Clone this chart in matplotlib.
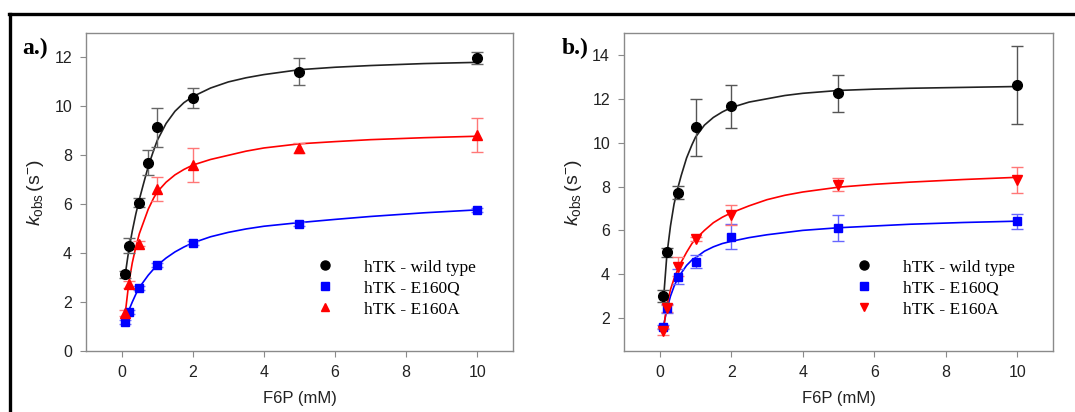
import numpy as np
import matplotlib.pyplot as plt
from matplotlib.lines import Line2D

plt.rcParams['font.family'] = ['Liberation Sans', 'DejaVu Sans']
plt.rcParams['mathtext.fontset'] = 'custom'
plt.rcParams['mathtext.rm'] = 'Liberation Sans'
plt.rcParams['mathtext.it'] = 'Liberation Sans:italic'

# ---- panel a data ----
a_wt_x = [0.1, 0.2, 0.5, 0.75, 1, 2, 5, 10]
a_wt_y = [3.14, 4.3, 6.07, 7.7, 9.14, 10.34, 11.41, 11.98]
a_wt_e = [0.15, 0.3, 0.2, 0.5, 0.8, 0.4, 0.55, 0.25]

a_q_x = [0.1, 0.2, 0.5, 1, 2, 5, 10]
a_q_y = [1.17, 1.6, 2.58, 3.5, 4.42, 5.21, 5.78]
a_q_e = [0.08, 0.08, 0.08, 0.08, 0.08, 0.08, 0.08]

a_a_x = [0.1, 0.2, 0.5, 1, 2, 5, 10]
a_a_y = [1.55, 2.72, 4.38, 6.62, 7.6, 8.3, 8.84]
a_a_e = [0.12, 0.15, 0.1, 0.5, 0.7, 0.2, 0.7]

# fitted curves
fit_x = [0.1, 0.2, 0.3, 0.4, 0.5, 0.6, 0.75, 0.9, 1, 1.25, 1.5, 1.75, 2, 2.5, 3, 3.5,
         4, 5, 6, 7, 8.5, 10]
a_wt_fit = [3.1, 4.1, 4.9, 5.6, 6.2, 6.75, 7.55, 8.2, 8.6, 9.3, 9.8, 10.15, 10.4, 10.75,
            11.0, 11.17, 11.3, 11.5, 11.6, 11.67, 11.75, 11.8]
a_q_fit = [1.15, 1.65, 2.0, 2.32, 2.6, 2.8, 3.1, 3.35, 3.5, 3.8, 4.05, 4.25, 4.42, 4.67,
           4.85, 4.99, 5.1, 5.25, 5.38, 5.5, 5.65, 5.77]
a_a_fit = [1.5, 2.75, 3.6, 4.25, 4.8, 5.2, 5.8, 6.25, 6.5, 6.9, 7.2, 7.42, 7.6, 7.83,
           8.0, 8.17, 8.3, 8.47, 8.56, 8.64, 8.72, 8.78]

# ---- panel b data ----
b_wt_x = [0.1, 0.2, 0.5, 1, 2, 5, 10]
b_wt_y = [3.0, 5.0, 7.71, 10.71, 11.65, 12.25, 12.62]
b_wt_e = [0.28, 0.2, 0.3, 1.3, 1.0, 0.85, 1.78]

b_q_x = [0.1, 0.2, 0.5, 1, 2, 5, 10]
b_q_y = [1.59, 2.45, 3.89, 4.57, 5.71, 6.1, 6.41]
b_q_e = [0.1, 0.2, 0.35, 0.3, 0.57, 0.6, 0.35]

b_a_x = [0.1, 0.2, 0.5, 1, 2, 5, 10]
b_a_y = [1.39, 2.45, 4.35, 5.6, 6.7, 8.09, 8.29]
b_a_e = [0.15, 0.15, 0.45, 0.1, 0.45, 0.3, 0.6]

b_wt_fit = [2.75, 4.9, 6.2, 7.2, 7.9, 8.5, 9.3, 9.9, 10.25, 10.8, 11.15, 11.4, 11.6,
            11.85, 12.0, 12.15, 12.25, 12.38, 12.44, 12.48, 12.52, 12.56]
b_q_fit = [1.6, 2.4, 3.0, 3.45, 3.8, 4.05, 4.4, 4.65, 4.75, 5.05, 5.25, 5.4, 5.5, 5.67,
           5.8, 5.9, 6.0, 6.12, 6.2, 6.28, 6.36, 6.42]
b_a_fit = [1.45, 2.6, 3.3, 3.8, 4.2, 4.55, 5.0, 5.4, 5.6, 6.0, 6.35, 6.6, 6.8, 7.12,
           7.4, 7.6, 7.75, 7.97, 8.1, 8.2, 8.32, 8.42]

labels = ['hTK - wild type', 'hTK - E160Q', 'hTK - E160A']

fig = plt.figure(figsize=(10.75, 4.12), dpi=100)

# outer frame (top and left edges)
fig.add_artist(Line2D([9/1075, 1073/1075], [1-14/412, 1-14/412], lw=2.4, color='k',
                      transform=fig.transFigure))
fig.add_artist(Line2D([10/1075, 10/1075], [0, 1-14/412], lw=2.4, color='k',
                      transform=fig.transFigure))


def panel(ax, series, ylim, yticks, tri):
    for x, y, e, fit, col, mcol, ecol, mk, ms in series:
        ax.plot(fit_x, fit, '-', color=col, lw=1.2, zorder=2)
        ax.errorbar(x, y, yerr=e, fmt=mk, color=mcol, ecolor=ecol, ms=ms,
                    elinewidth=1.0, capsize=4, capthick=1.0, zorder=3)
    ax.set_xlim(-1, 11)
    ax.set_ylim(*ylim)
    ax.set_xticks([0, 2, 4, 6, 8, 10])
    ax.set_yticks(yticks)
    for s in ['top', 'right', 'left', 'bottom']:
        ax.spines[s].set_color('#8a8a8a')
        ax.spines[s].set_linewidth(1.0)
    ax.tick_params(direction='out', length=4, color='#8a8a8a', labelsize=11.5,
                   labelcolor='#222222', top=False, right=False, pad=6)
    ax.set_xlabel('F6P (mM)', fontsize=12, color='#222222', labelpad=8)
    ax.set_ylabel(r'$\mathit{k}_{\mathrm{obs}}\,(\mathrm{s}^{-})$', fontsize=14,
                  color='#222222', labelpad=6)
    handles = [Line2D([], [], ls='none', marker='o', color='k', ms=6.5),
               Line2D([], [], ls='none', marker='s', color='#0000ff', ms=5.5),
               Line2D([], [], ls='none', marker=tri, color='#ff0000', ms=6)]
    ax.legend(handles, labels, loc='upper left', bbox_to_anchor=(0.52, 0.31),
              frameon=False, handlelength=1.2, handletextpad=1.6, labelspacing=0.28,
              borderaxespad=0, prop={'family': 'Liberation Serif', 'size': 12.5})


ax1 = fig.add_axes([86/1075, 1-351/412, 427/1075, 318/412])
panel(ax1, [
    (a_wt_x, a_wt_y, a_wt_e, a_wt_fit, '#222222', 'k', '#666666', 'o', 7),
    (a_q_x, a_q_y, a_q_e, a_q_fit, '#0000ff', '#0000ff', '#7777ff', 's', 6),
    (a_a_x, a_a_y, a_a_e, a_a_fit, '#ff0000', '#ff0000', '#ff7777', '^', 6.5),
], (0, 13), [0, 2, 4, 6, 8, 10, 12], '^')

ax2 = fig.add_axes([624/1075, 1-351/412, 429/1075, 318/412])
panel(ax2, [
    (b_wt_x, b_wt_y, b_wt_e, b_wt_fit, '#222222', 'k', '#555555', 'o', 7),
    (b_q_x, b_q_y, b_q_e, b_q_fit, '#0000ff', '#0000ff', '#6666ff', 's', 6),
    (b_a_x, b_a_y, b_a_e, b_a_fit, '#ff0000', '#ff0000', '#ff7777', 'v', 6.5),
], (0.5, 15), [2, 4, 6, 8, 10, 12, 14], 'v')

fig.text(22/1075, 1-48/412, 'a.)', family='Liberation Serif', weight='bold', fontsize=17,
         va='center', ha='left')
fig.text(562/1075, 1-48/412, 'b.)', family='Liberation Serif', weight='bold', fontsize=17,
         va='center', ha='left')

fig.savefig('out.png', dpi=100)
